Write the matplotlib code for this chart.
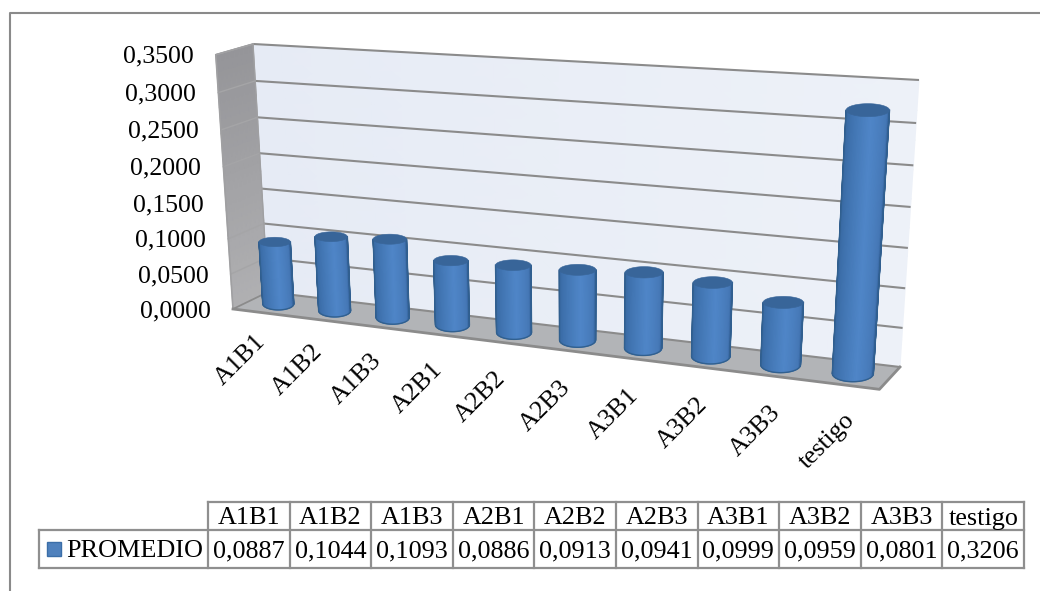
import numpy as np
import matplotlib
matplotlib.use("Agg")
import matplotlib.pyplot as plt
from matplotlib.colors import LinearSegmentedColormap

categories = ["A1B1", "A1B2", "A1B3", "A2B1", "A2B2", "A2B3", "A3B1", "A3B2", "A3B3", "testigo"]
promedio = [0.0887, 0.1044, 0.1093, 0.0886, 0.0913, 0.0941, 0.0999, 0.0959, 0.0801, 0.3206]
value_ticks = [0.0, 0.05, 0.10, 0.15, 0.20, 0.25, 0.30, 0.35]
series_name = "PROMEDIO"
value_max = 0.35

plt.rcParams["font.family"] = ["Liberation Serif", "DejaVu Serif"]
fig = plt.figure(figsize=(10.4, 5.91), dpi=100)
ax = fig.add_axes([0, 0, 1, 1])
ax.set_xlim(0, 1040)
ax.set_ylim(591, 0)
ax.axis("off")

# perspective box: pixel corners of the plot's back wall and floor
O = np.array([268.0, 292.0, 1.0])
BR = np.array([900.0, 367.0, 1.0])
TL = np.array([253.0, 44.0, 1.0])
TR = np.array([919.0, 80.0, 1.0])
FL = np.array([233.0, 309.0, 1.0])
FR = np.array([890.0, 394.0, 1.0])
a = np.linalg.solve(np.c_[BR, TL, -TR], O)
wt, wv = a[0], a[1]
b = np.linalg.solve(np.c_[FL, -FR, np.array([0, 0, 1.0])], O - wt * BR)
wd = b[0]
Ex, Ev, Ed = wt * BR - O, wv * TL - O, wd * FL - O


def proj(t, v, d):
    t, v, d = (np.asarray(q, float).ravel() for q in (t, v, d))
    P = O[:, None] + Ex[:, None] * t + Ev[:, None] * v + Ed[:, None] * d
    return np.c_[P[0] / P[2], P[1] / P[2]]


n_cat = len(categories)
GRID = "#8b8b8b"

# back wall
wall_cmap = LinearSegmentedColormap.from_list("wall", ["#e6ebf5", "#edf1f8"])
tg, vg = np.meshgrid(np.linspace(0, 1, 21), np.linspace(0, 1, 11))
pts = proj(tg, vg, np.zeros(tg.size))
ax.pcolormesh(pts[:, 0].reshape(tg.shape), pts[:, 1].reshape(tg.shape), tg, cmap=wall_cmap,
              shading="gouraud", zorder=1)

# left wall
side_cmap = LinearSegmentedColormap.from_list("side", ["#959599", "#b0b0b2"])
dg, vg = np.meshgrid(np.linspace(0, 1, 9), np.linspace(0, 1, 11))
pts = proj(np.zeros(dg.size), vg, dg)
ax.pcolormesh(pts[:, 0].reshape(dg.shape), pts[:, 1].reshape(dg.shape),
              1 - vg, cmap=side_cmap, shading="gouraud", zorder=1)

# floor
ax.fill(*proj([0, 1, 1, 0], [0, 0, 0, 0], [0, 0, 1, 1]).T, color="#b2b4b7", lw=0, zorder=2)
for tk in value_ticks:
    v = tk / value_max
    ax.plot(*proj([0, 1], [v, v], [0, 0]).T, color=GRID, lw=1.5, zorder=3, solid_capstyle="butt")
    ax.plot(*proj([0, 0], [v, v], [0, 1]).T, color="#a5a5a7", lw=1.0, zorder=3)
    edge = proj([0], [v], [1])[0]
    ax.text(edge[0] - 22, edge[1] + 2, f"{tk:.4f}".replace(".", ","),
            ha="right", va="center", fontsize=18.5, color="black", zorder=5)
ax.plot(*proj([0, 0, 0], [0, 1, 1], [1, 1, 0]).T, color="#a0a0a2", lw=1.2, zorder=3)
ax.plot(*proj([0, 0], [0, 1], [0, 0]).T, color="#a0a0a2", lw=1.0, zorder=3)
ax.plot(*proj([0, 1, 1], [0, 0, 0], [1, 1, 0]).T, color=GRID, lw=2.0, zorder=3)
ax.plot(*proj([0, 0], [0, 0], [1, 0]).T, color=GRID, lw=1.2, zorder=3)

# cylinders
R_T = 0.028
body_cmap = LinearSegmentedColormap.from_list(
    "body", [(0, "#2b5587"), (0.12, "#3a6ba5"), (0.55, "#4f86c8"), (0.85, "#4577b5"), (1, "#2f5b90")])
top_col = "#386599"
for i, (cat, val) in enumerate(zip(categories, promedio)):
    tc = (i + 0.5) / n_cat
    v1 = val / value_max
    z = 4 + i * 0.01
    top_c = proj([tc], [v1], [0.5])[0]
    bot_c = proj([tc], [0], [0.5])[0]
    a_top = np.diff(proj([tc - R_T, tc + R_T], [v1, v1], [0.5, 0.5])[:, 0])[0] / 2
    a_bot = np.diff(proj([tc - R_T, tc + R_T], [0, 0], [0.5, 0.5])[:, 0])[0] / 2
    b_top, b_bot = 0.30 * a_top, 0.40 * a_bot
    th = np.linspace(np.pi, 0, 49)
    X = np.vstack([bot_c[0] + a_bot * np.cos(th), top_c[0] + a_top * np.cos(th)])
    Y = np.vstack([bot_c[1] + b_bot * np.sin(th), top_c[1] + b_top * np.sin(th)])
    U = np.vstack([np.linspace(0, 1, 49)] * 2)
    ax.pcolormesh(X, Y, U, cmap=body_cmap, vmin=0, vmax=1, shading="gouraud", zorder=z)
    # soft outline along the sides and the base
    ax.plot(np.r_[X[1, 0], X[0], X[1, -1]], np.r_[Y[1, 0], Y[0], Y[1, -1]],
            color="#31608f", lw=1.0, zorder=z + 0.0005)
    ph = np.linspace(0, 2 * np.pi, 73)
    ax.fill(top_c[0] + a_top * np.cos(ph), top_c[1] + b_top * np.sin(ph), color=top_col, lw=0.4,
            zorder=z + 0.001)
    anchor = proj([tc], [0], [1])[0]
    ax.text(anchor[0] - 7 + 10 * tc ** 2, anchor[1] + 16.5 + 31 * tc - 24 * tc ** 2, cat,
            rotation=45, rotation_mode="anchor", ha="right", va="top", fontsize=18.5,
            color="black", zorder=5)

# data table
col_edges = np.linspace(208, 1024, n_cat + 1)
y_top, y_mid, y_bot = 502, 530, 568
x_left = 39
TC = "#8f8f8f"
lkw = dict(color=TC, lw=1.6, zorder=6, solid_capstyle="projecting")
ax.plot([col_edges[0], col_edges[-1]], [y_top, y_top], **lkw)
ax.plot([x_left, col_edges[-1]], [y_mid, y_mid], **lkw)
ax.plot([x_left, col_edges[-1]], [y_bot, y_bot], **lkw)
ax.plot([x_left, x_left], [y_mid, y_bot], **lkw)
for x in col_edges:
    ax.plot([x, x], [y_top, y_bot], **lkw)
for i, (cat, val) in enumerate(zip(categories, promedio)):
    xc = (col_edges[i] + col_edges[i + 1]) / 2
    ax.text(xc, (y_top + y_mid) / 2 + 2.5, cat, ha="center", va="center", fontsize=18.8, zorder=7)
    ax.text(xc, (y_mid + y_bot) / 2 + 2, f"{val:.4f}".replace(".", ","), ha="center", va="center", fontsize=18.8, zorder=7)
ax.add_patch(plt.Rectangle((47, 542), 14, 14, fc="#4f81bd", ec="#3b6ea8", lw=1, zorder=7))
ax.text(66, (y_mid + y_bot) / 2 + 2, series_name, ha="left", va="center", fontsize=18.8, zorder=7)

# chart frame: only the left and top edges lie inside the picture
ax.plot([10, 10, 1040], [591, 13, 13], color="#8a8a8a", lw=1.5, zorder=0)

fig.savefig("out.png", dpi=100)
